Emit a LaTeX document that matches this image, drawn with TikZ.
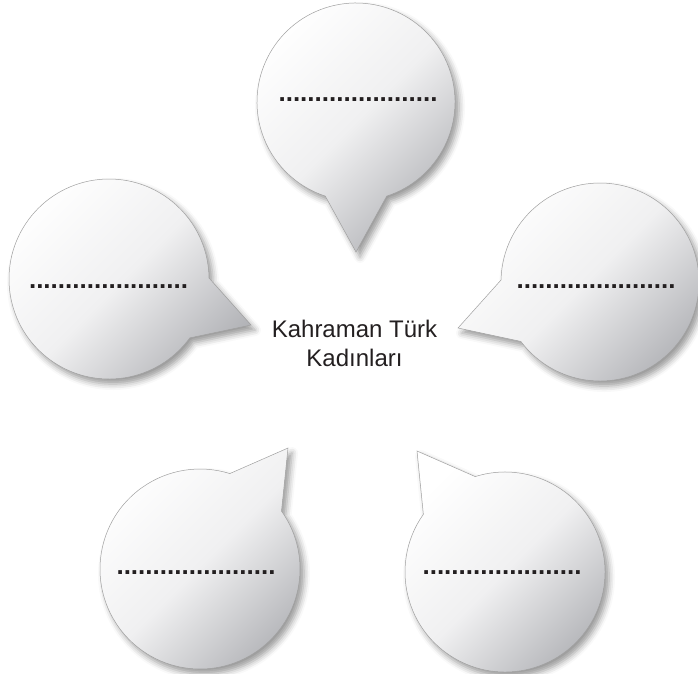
\documentclass[tikz,border=0pt]{standalone}
\usepackage{fontspec}
\setmainfont{Liberation Sans}
\usetikzlibrary{shadows.blur}
\definecolor{bubgray}{RGB}{178,179,183}
\definecolor{bubmid}{RGB}{240,240,241}
\definecolor{bubline}{RGB}{160,160,160}
\definecolor{textcol}{RGB}{35,31,32}
\tikzset{
  bubble/.style={draw=bubline, line width=0.5pt, top color=white, bottom color=bubgray, middle color=bubmid, shading angle=45,
    blur shadow={shadow xshift=4pt, shadow yshift=-5pt, shadow blur radius=6pt, shadow opacity=40}},
  dotline/.style={font=\bfseries\fontsize{26}{26}\selectfont, inner sep=0pt, text=textcol},
  title/.style={align=center, font=\fontsize{24}{28.5}\selectfont, inner sep=0pt, text=textcol}
}
\begin{document}
\begin{tikzpicture}[x=1pt,y=-1pt]
\useasboundingbox (0,0) rectangle (698,673);
% centres and tips
\coordinate (cT) at (356,102);  \coordinate (tT) at (356,252);
\coordinate (cL) at (109,279);  \coordinate (tL) at (251,325);
\coordinate (cR) at (600,282);  \coordinate (tR) at (458,328);
\coordinate (cBL) at (200,569); \coordinate (tBL) at (288,448);
\coordinate (cBR) at (505,572); \coordinate (tBR) at (417,451);
% bubbles
\path[bubble] (cT) ++(71.93:99) arc[start angle=71.93, end angle=-251.93, radius=99] -- (tT) -- cycle;
\path[bubble] (cL) ++(36.07:100) arc[start angle=36.07, end angle=359.42, radius=100] -- (tL) -- cycle;
\path[bubble] (cR) ++(143.13:99) arc[start angle=143.13, end angle=-178.83, radius=99] -- (tR) -- cycle;
\path[bubble] (cBL) ++(-35.41:100) arc[start angle=-35.41, end angle=287.35, radius=100] -- (tBL) -- cycle;
\path[bubble] (cBR) ++(-107.35:100) arc[start angle=-107.35, end angle=215.27, radius=100] -- (tBR) -- cycle;
% dotted placeholders
\node[dotline] (dT) at (358,100) {......................};
\node[dotline] (dL) at (108.5,287) {......................};
\node[dotline] (dR) at (596,287) {......................};
\node[dotline] (dBL) at (196,573) {......................};
\node[dotline] (dBR) at (502,573) {......................};
% centre text
\node[title] (center) at (354.5,343.5) {Kahraman Türk\\Kadınları};
\end{tikzpicture}
\end{document}
